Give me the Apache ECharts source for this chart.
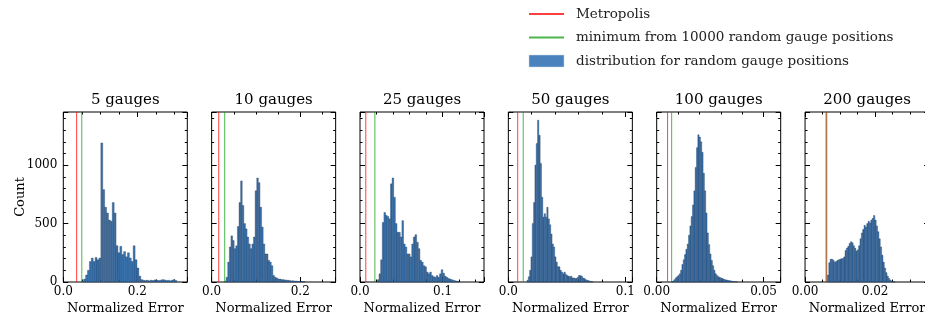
<!DOCTYPE html>
<html>
<head>
<meta charset="utf-8">
<script src="https://cdn.jsdelivr.net/npm/echarts@6/dist/echarts.min.js"></script>
<style>
  html, body { margin: 0; padding: 0; background: #fff; }
  #chart { width: 925px; height: 321px; }
</style>
</head>
<body>
<div id="chart"></div>
<script>
// panel titles
const panelTitles = ['5 gauges', '10 gauges', '25 gauges', '50 gauges', '100 gauges', '200 gauges'];

// histogram bins: first edge, bin width, counts (50 bins each)
const binStart = [0.05, 0.029, 0.021, 0.0159, 0.0068, 0.00638];
const binWidth = [0.00514, 0.00364, 0.00198, 0.00113, 0.000621, 0.000387];

const counts5 = [10, 25, 60, 100, 175, 205, 175, 210, 190, 205,
  1190, 790, 640, 590, 530, 520, 680, 590, 310,
  250, 305, 235, 260, 215, 250, 205, 175, 310, 190, 120, 50, 20,
  15, 12, 15, 10, 15, 12, 18, 15, 12, 15, 20, 18, 12, 15, 10, 15, 20, 12];
const counts10 = [5, 40, 170, 300, 395, 355, 285, 310, 475, 680,
  865, 655, 500, 455, 385, 325, 285, 325, 385, 780,
  890, 850, 640, 470, 325, 240, 240, 185, 170, 140,
  55, 40, 35, 25, 25, 20, 20, 18, 15, 15,
  12, 10, 10, 8, 8, 6, 5, 5, 4, 3];
const counts25 = [20, 70, 190, 510, 595, 570, 560, 540, 840, 890,
  725, 500, 425, 425, 385, 525, 325, 300, 240, 240,
  215, 325, 385, 405, 340, 285, 185, 170, 140, 130,
  85, 70, 85, 55, 45, 40, 55, 40, 70, 105,
  75, 50, 40, 30, 25, 20, 15, 10, 8, 5];
const counts50 = [15, 45, 100, 215, 500, 680, 1000, 1185, 1385, 1255,
  1015, 725, 555, 585, 555, 640, 540, 490, 410, 325,
  300, 215, 170, 130, 130, 100, 85, 70, 85, 65,
  55, 50, 45, 50, 35, 35, 30, 30, 40, 55,
  55, 50, 35, 30, 20, 15, 12, 8, 5, 3];
const counts100 = [3, 8, 20, 35, 45, 55, 70, 100, 150, 190,
  235, 280, 325, 400, 480, 560, 660, 780, 980, 1150,
  1260, 1240, 1200, 1110, 930, 780, 590, 420, 320, 240,
  185, 140, 100, 70, 55, 45, 40, 35, 30, 25,
  20, 18, 15, 12, 10, 8, 6, 4, 3, 2];
const counts200 = [60, 165, 195, 195, 185, 170, 175, 185, 190, 195,
  200, 200, 215, 270, 290, 305, 330, 345, 335, 310,
  290, 265, 275, 310, 370, 420, 450, 485, 470, 500,
  520, 505, 530, 545, 570, 530, 480, 430, 370, 300,
  230, 170, 120, 80, 50, 30, 15, 8, 4, 2];
const allCounts = [counts5, counts10, counts25, counts50, counts100, counts200];

// reference lines
const metropolis = [0.036, 0.016, 0.007, 0.008, 0.0051, 0.0060];
const randomMin = [0.050, 0.0295, 0.018, 0.0127, 0.0070, 0.0062];

// axes
const xMax = [0.335, 0.28, 0.15, 0.106, 0.058, 0.0354];
const xMajor = [0.2, 0.2, 0.1, 0.1, 0.05, 0.02];
const xMinor = [0.05, 0.05, 0.02, 0.02, 0.01, 0.005];
const xDecimals = [1, 1, 1, 1, 2, 2];
const yMax = 1455;
const yMajor = 500;
const yMinor = 100;

const font = 'DejaVu Serif';
const barColor = '#3b75b0';
const redColor = 'rgba(255,0,0,0.75)';
const greenColor = 'rgba(0,150,0,0.7)';

const chart = echarts.init(document.getElementById('chart'), null, { renderer: 'canvas' });

const onMajor = (v, step) => Math.abs(v / step - Math.round(v / step)) < 1e-6;
const hiddenLine = { show: false, onZero: false };

const grids = [], xAxes = [], yAxes = [], series = [];
panelTitles.forEach((title, i) => {
  grids.push({
    left: 63.3 + i * 148.35, top: 112, width: 124, height: 170,
    show: true, borderColor: '#000', borderWidth: 1, backgroundColor: 'transparent',
    containLabel: false, outerBoundsMode: 'none',
  });
  const xBase = {
    gridIndex: i, type: 'value', min: 0, max: xMax[i],
    axisLine: hiddenLine, splitLine: { show: false },
  };
  // bottom major, bottom minor, top major, top minor
  xAxes.push({
    ...xBase, position: 'bottom', interval: xMajor[i],
    axisTick: { inside: true, length: 5, lineStyle: { color: '#000' } },
    axisLabel: {
      margin: 4, color: '#000', fontFamily: font, fontSize: 12,
      formatter: (v) => (onMajor(v, xMajor[i]) ? v.toFixed(xDecimals[i]) : ''),
    },
    name: 'Normalized Error', nameLocation: 'middle', nameGap: 20, nameMoveOverlap: false,
    nameTextStyle: { color: '#000', fontFamily: font, fontSize: 13 },
  });
  xAxes.push({
    ...xBase, position: 'bottom', interval: xMinor[i],
    axisTick: { inside: true, length: 2.5, lineStyle: { color: '#000' } },
    axisLabel: { show: false },
  });
  xAxes.push({
    ...xBase, position: 'top', interval: xMajor[i],
    axisTick: { inside: true, length: 5, lineStyle: { color: '#000' } },
    axisLabel: { show: false },
    name: title, nameLocation: 'middle', nameGap: 4, nameMoveOverlap: false,
    nameTextStyle: { color: '#000', fontFamily: font, fontSize: 15 },
  });
  xAxes.push({
    ...xBase, position: 'top', interval: xMinor[i],
    axisTick: { inside: true, length: 2.5, lineStyle: { color: '#000' } },
    axisLabel: { show: false },
  });

  const yBase = {
    gridIndex: i, type: 'value', min: 0, max: yMax,
    axisLine: hiddenLine, splitLine: { show: false },
  };
  yAxes.push({
    ...yBase, position: 'left', interval: yMajor,
    axisTick: { inside: true, length: 5, lineStyle: { color: '#000' } },
    axisLabel: {
      show: i === 0, margin: 6, color: '#000', fontFamily: font, fontSize: 12,
      formatter: (v) => (onMajor(v, yMajor) ? String(v) : ''),
    },
    name: i === 0 ? 'Count' : '', nameLocation: 'middle', nameGap: 36, nameMoveOverlap: false,
    nameTextStyle: { color: '#000', fontFamily: font, fontSize: 13 },
  });
  yAxes.push({
    ...yBase, position: 'left', interval: yMinor,
    axisTick: { inside: true, length: 2.5, lineStyle: { color: '#000' } },
    axisLabel: { show: false },
  });
  yAxes.push({
    ...yBase, position: 'right', interval: yMajor,
    axisTick: { inside: true, length: 5, lineStyle: { color: '#000' } },
    axisLabel: { show: false },
  });
  yAxes.push({
    ...yBase, position: 'right', interval: yMinor,
    axisTick: { inside: true, length: 2.5, lineStyle: { color: '#000' } },
    axisLabel: { show: false },
  });

  const bins = allCounts[i].map((c, k) => [
    binStart[i] + k * binWidth[i],
    binStart[i] + (k + 1) * binWidth[i],
    c,
  ]);
  series.push({
    name: 'distribution for random gauge positions',
    type: 'custom',
    xAxisIndex: 4 * i, yAxisIndex: 4 * i,
    itemStyle: { color: barColor, borderColor: 'rgba(20,45,80,0.8)', borderWidth: 0.4 },
    encode: { x: [0, 1], y: 2 },
    data: bins,
    renderItem: (params, api) => {
      const top = api.coord([api.value(0), api.value(2)]);
      const bottom = api.coord([api.value(1), 0]);
      return {
        type: 'rect',
        shape: { x: top[0], y: top[1], width: bottom[0] - top[0], height: bottom[1] - top[1] },
        style: api.style(),
      };
    },
    silent: true,
  });
  series.push({
    name: 'minimum from 10000 random gauge positions',
    type: 'line', xAxisIndex: 4 * i, yAxisIndex: 4 * i,
    symbol: 'none', silent: true,
    lineStyle: { color: greenColor, width: 1 }, itemStyle: { color: greenColor },
    data: [[randomMin[i], 0], [randomMin[i], yMax]],
    z: 3,
  });
  series.push({
    name: 'Metropolis',
    type: 'line', xAxisIndex: 4 * i, yAxisIndex: 4 * i,
    symbol: 'none', silent: true,
    lineStyle: { color: redColor, width: 1 }, itemStyle: { color: redColor },
    data: [[metropolis[i], 0], [metropolis[i], yMax]],
    z: 3,
  });
});

chart.setOption({
  animation: false,
  backgroundColor: '#fff',
  legend: {
    left: 528, top: 7, padding: 0,
    orient: 'vertical', itemWidth: 35, itemHeight: 12, itemGap: 9.5,
    selectedMode: false,
    textStyle: { color: '#222', fontFamily: font, fontSize: 13.5, padding: [0, 0, 0, 7] },
    data: [
      { name: 'Metropolis', itemStyle: { opacity: 0 } },
      { name: 'minimum from 10000 random gauge positions', itemStyle: { opacity: 0 } },
      { name: 'distribution for random gauge positions', icon: 'rect',
        itemStyle: { color: '#4a82bd', borderColor: '#cfd8e3', borderWidth: 0.5, opacity: 1 } },
    ],
  },
  grid: grids,
  xAxis: xAxes,
  yAxis: yAxes,
  series: series,
});

window.addEventListener('resize', () => chart.resize());
</script>
</body>
</html>
